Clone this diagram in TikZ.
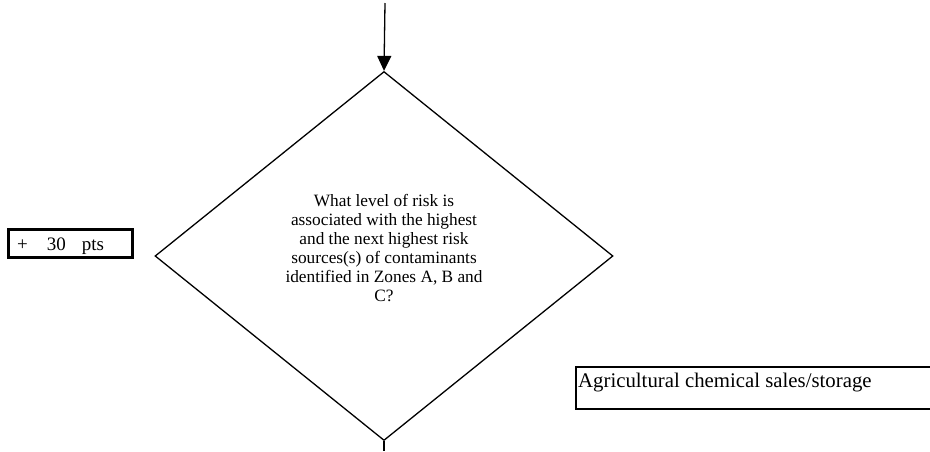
\documentclass[tikz,border=0pt]{standalone}
\usepackage{fontspec}
\setmainfont{Liberation Serif}
\usetikzlibrary{shapes.geometric,arrows.meta}

\begin{document}
\begin{tikzpicture}
  [x=1pt,y=-1pt,every node/.style={inner sep=0pt}]

  \tikzset{
    decision/.style={draw,diamond,line width=1.3pt,minimum width=458pt,minimum height=369pt},
    pointsbox/.style={draw,line width=2.6pt,minimum width=124pt,minimum height=28pt},
    sourcebox/.style={draw,line width=1.6pt,minimum width=362pt,minimum height=42pt},
    flow/.style={line width=1.3pt}
  }

  \useasboundingbox (0,0) rectangle (930,451);

  % decision
  \node[decision] (risk) at (384,256) {};
  \node[align=center,font=\fontsize{17.3}{19}\selectfont] (risktext) at (384,248)
    {What level of risk is\\associated with the highest\\and the next highest risk\\
     sources(s) of contaminants\\identified in Zones A, B and\\C?};

  % score and source
  \node[pointsbox] (score) at (70.5,243.5) {};
  \node[anchor=base west,font=\fontsize{19}{22}\selectfont] (scoretext) at (17,250)
    {+\hspace{19pt}30\hspace{16pt}pts};
  \node[sourcebox,anchor=north west] (source) at (575,366) {};
  \node[anchor=base west,font=\fontsize{20.8}{24}\selectfont] (sourcetext) at (578,387)
    {Agricultural chemical sales/storage};

  % connectors
  \coordinate (in) at (385,3);
  \coordinate (out) at (384,451);
  \draw[flow,-{Triangle[length=15pt,width=14pt]}] (in) -- (risk.north);
  \draw[flow] (risk.south) -- (out);
\end{tikzpicture}
\end{document}
